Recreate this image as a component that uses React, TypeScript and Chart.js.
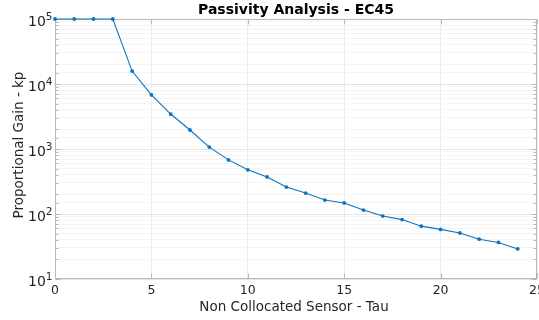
import React, { useEffect, useRef } from "react";
import { Chart, registerables } from "chart.js";

Chart.register(...registerables);

const xValues = [0, 1, 2, 3, 4, 5, 6, 7, 8, 9, 10, 11, 12, 13, 14, 15, 16, 17, 18, 19, 20, 21, 22, 23, 24];
const kpValues = [100000, 100000, 100000, 100000, 15800, 6800, 3450, 1960, 1070, 680, 478, 372, 260, 210, 164, 148, 115, 93, 82, 65, 58, 51, 41, 36.5, 29];
const xTicks = [0, 5, 10, 15, 20, 25];
const yExponents = [1, 2, 3, 4, 5];
const titleText = "Passivity Analysis - EC45";
const xLabel = "Non Collocated Sensor - Tau";
const yLabel = "Proportional Gain - kp";

const FONT = "'DejaVu Sans', sans-serif";
const TEXT = "#262626";
const AXIS = "#b8b8b8";

export default function App() {
  const ref = useRef<HTMLCanvasElement | null>(null);

  useEffect(() => {
    document.body.style.margin = "0";
    const canvas = ref.current!;
    const overlay = {
      id: "overlay",
      afterDraw(chart: any) {
        const ctx = chart.ctx as CanvasRenderingContext2D;
        const a = chart.chartArea;
        const xs = chart.scales.x;
        const ys = chart.scales.y;
        ctx.save();
        ctx.fillStyle = TEXT;
        // x tick labels
        ctx.font = `12.5px ${FONT}`;
        ctx.textAlign = "center";
        ctx.textBaseline = "middle";
        xTicks.forEach((t) => {
          ctx.fillText(String(t), xs.getPixelForValue(t), a.bottom + 12);
        });
        // y tick labels with superscripts
        yExponents.forEach((e) => {
          const y = ys.getPixelForValue(Math.pow(10, e));
          ctx.font = `10.5px ${FONT}`;
          ctx.textAlign = "right";
          ctx.textBaseline = "alphabetic";
          const sup = String(e);
          const supW = ctx.measureText(sup).width;
          const right = a.left - 2.5;
          ctx.fillText(sup, right, y + 0.5);
          ctx.font = `14px ${FONT}`;
          ctx.fillText("10", right - supW, y + 7);
        });
        // title
        ctx.font = `bold 14px ${FONT}`;
        ctx.textAlign = "center";
        ctx.textBaseline = "middle";
        ctx.fillStyle = "#000";
        ctx.fillText(titleText, (a.left + a.right) / 2, 10);
        // x label
        ctx.fillStyle = TEXT;
        ctx.font = `13.5px ${FONT}`;
        ctx.fillText(xLabel, (a.left + a.right) / 2 - 2, a.bottom + 28);
        // y label
        ctx.translate(19, (a.top + a.bottom) / 2 - 4);
        ctx.rotate(-Math.PI / 2);
        ctx.fillText(yLabel, 0, 0);
        ctx.restore();
      },
      beforeDatasetsDraw(chart: any) {
        const ctx = chart.ctx as CanvasRenderingContext2D;
        const a = chart.chartArea;
        const xs = chart.scales.x;
        const ys = chart.scales.y;
        ctx.save();
        ctx.strokeStyle = AXIS;
        ctx.lineWidth = 1;
        const L = Math.round(a.left) + 0.5;
        const R = Math.round(a.right) - 0.5;
        const T = Math.round(a.top) + 0.5;
        const B = Math.round(a.bottom) - 0.5;
        ctx.strokeRect(L, T, R - L, B - T);
        // inward tick marks
        ctx.beginPath();
        ys.ticks.forEach((t: any) => {
          const l = Math.log10(t.value);
          const major = Math.abs(l - Math.round(l)) < 1e-9;
          const len = major ? 5 : 3;
          const y = Math.round(ys.getPixelForValue(t.value)) + 0.5;
          ctx.moveTo(L, y);
          ctx.lineTo(L + len, y);
          ctx.moveTo(R, y);
          ctx.lineTo(R - len, y);
        });
        xTicks.forEach((t) => {
          const x = Math.round(xs.getPixelForValue(t)) + 0.5;
          ctx.moveTo(x, B);
          ctx.lineTo(x, B - 5);
          ctx.moveTo(x, T);
          ctx.lineTo(x, T + 5);
        });
        ctx.stroke();
        ctx.restore();
      },
    };

    const chart = new Chart(canvas, {
      type: "line",
      data: {
        datasets: [
          {
            data: xValues.map((x, i) => ({ x, y: kpValues[i] })),
            borderColor: "#0a74c2",
            backgroundColor: "#0a74c2",
            borderWidth: 1.1,
            pointRadius: 1.9,
            pointHoverRadius: 1.9,
            pointBorderWidth: 0,
            tension: 0,
            clip: false,
          } as any,
        ],
      },
      options: {
        animation: false,
        responsive: false,
        layout: { padding: { top: 19, right: 2, left: 0, bottom: 0 } },
        plugins: { legend: { display: false }, title: { display: false }, tooltip: { enabled: false } },
        scales: {
          x: {
            type: "linear",
            min: 0,
            max: 25,
            ticks: { display: false, stepSize: 5 },
            grid: { color: "#ececec", drawTicks: false },
            border: { display: false },
            afterFit: (s: any) => {
              s.height = 41;
            },
          },
          y: {
            type: "logarithmic",
            min: 10,
            max: 100000,
            ticks: { display: false, autoSkip: false },
            grid: {
              drawTicks: false,
              color: (c: any) => {
                const v = c.tick ? c.tick.value : 0;
                const l = Math.log10(v);
                return Math.abs(l - Math.round(l)) < 1e-9 ? "#e6e6e6" : "#f4f4f4";
              },
            },
            border: { display: false },
            afterFit: (s: any) => {
              s.width = 55;
            },
          },
        },
      },
      plugins: [overlay],
    });
    return () => chart.destroy();
  }, []);

  return <canvas ref={ref} width={539} height={320} style={{ display: "block" }} />;
}
